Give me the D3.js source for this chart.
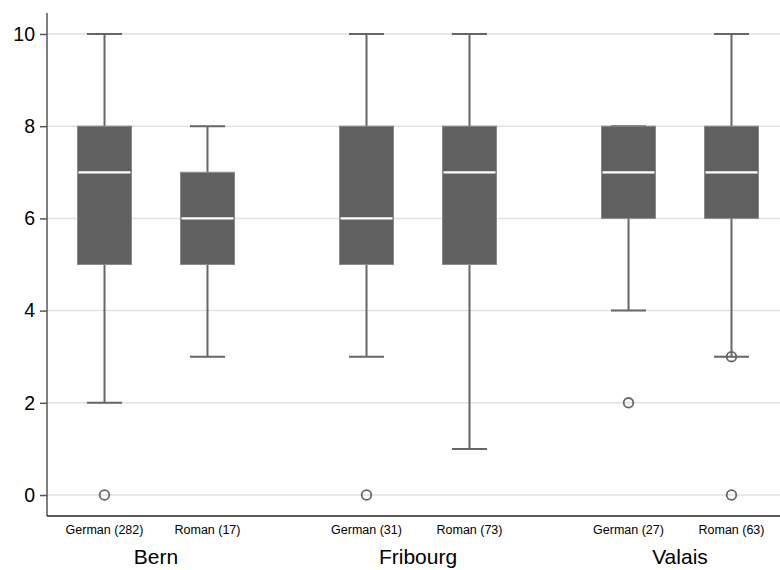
<!DOCTYPE html>
<html><head><meta charset="utf-8">
<script src="https://cdn.jsdelivr.net/npm/d3@7"></script>
<style>body{margin:0;background:#fff}svg{display:block;font-family:"Liberation Sans",Arial,sans-serif}</style>
</head><body><svg id="c" width="780" height="570"></svg>
<script>
const groups = ["Bern","Fribourg","Valais"];
const languages = ["German","Roman"];
const counts = [[282,17],[31,73],[27,63]];
const whiskerLow  = [[2,3],[3,1],[4,3]];
const q1          = [[5,5],[5,5],[6,6]];
const medians     = [[7,6],[6,7],[7,7]];
const q3          = [[8,7],[8,8],[8,8]];
const whiskerHigh = [[10,8],[10,10],[8,10]];
const outliers    = [[[0],[]],[[0],[]],[[2],[3,0]]];
const yTicks = [0,2,4,6,8,10];

(function(){
const svg = d3.select("#c");
const mL = 47, mR = 780, mT = 13, mB = 516;
const y = d3.scaleLinear().domain([-0.455,10.455]).range([mB, mT]);
const xg = d3.scaleBand().domain(groups).range([25, 811]);
const xi = d3.scalePoint().domain(languages).range([0, xg.bandwidth()]).padding(0.772);
const boxW = 54, capW = 35;

svg.append("g").selectAll("line").data(yTicks).join("line")
  .attr("x1", mL).attr("x2", mR)
  .attr("y1", d=>y(d)).attr("y2", d=>y(d))
  .attr("stroke","#e1e1e1").attr("stroke-width",1.5);

const yAxis = svg.append("g").attr("transform",`translate(${mL},0)`)
  .call(d3.axisLeft(y).tickValues(yTicks).tickSize(7).tickPadding(5));
yAxis.select(".domain").attr("stroke","#555").attr("stroke-width",1.5).attr("d",`M0,${mT}V${mB}`);
yAxis.selectAll(".tick line").attr("stroke","#555").attr("stroke-width",1.5);
yAxis.selectAll(".tick text").attr("font-size",19.5).attr("fill","#000").attr("font-family","Liberation Sans, Arial, sans-serif");

svg.append("line").attr("x1",mL).attr("x2",mR).attr("y1",mB).attr("y2",mB)
  .attr("stroke","#222").attr("stroke-width",1.5);

const items = [];
groups.forEach((g,gi)=>languages.forEach((l,li)=>items.push({
  g, l, n:counts[gi][li], lo:whiskerLow[gi][li], q1:q1[gi][li], med:medians[gi][li],
  q3:q3[gi][li], hi:whiskerHigh[gi][li], out:outliers[gi][li],
  cx: xg(g)+xi(l)
})));

const col = "#666";
const bx = svg.append("g").selectAll("g").data(items).join("g");
bx.append("line").attr("x1",d=>d.cx).attr("x2",d=>d.cx).attr("y1",d=>y(d.q3)).attr("y2",d=>y(d.hi)).attr("stroke",col).attr("stroke-width",2);
bx.append("line").attr("x1",d=>d.cx).attr("x2",d=>d.cx).attr("y1",d=>y(d.q1)).attr("y2",d=>y(d.lo)).attr("stroke",col).attr("stroke-width",2);
bx.append("line").attr("x1",d=>d.cx-capW/2).attr("x2",d=>d.cx+capW/2).attr("y1",d=>y(d.hi)).attr("y2",d=>y(d.hi)).attr("stroke",col).attr("stroke-width",2);
bx.append("line").attr("x1",d=>d.cx-capW/2).attr("x2",d=>d.cx+capW/2).attr("y1",d=>y(d.lo)).attr("y2",d=>y(d.lo)).attr("stroke",col).attr("stroke-width",2);
bx.append("rect").attr("x",d=>d.cx-boxW/2).attr("width",boxW)
  .attr("y",d=>y(d.q3)).attr("height",d=>y(d.q1)-y(d.q3))
  .attr("fill","#606060").attr("stroke","#8a8a8a").attr("stroke-width",1);
bx.append("line").attr("x1",d=>d.cx-boxW/2+1).attr("x2",d=>d.cx+boxW/2-1).attr("y1",d=>y(d.med)).attr("y2",d=>y(d.med)).attr("stroke","#fff").attr("stroke-width",2.2);
bx.each(function(d){
  d3.select(this).selectAll("circle").data(d.out).join("circle")
    .attr("cx",d.cx).attr("cy",v=>y(v)).attr("r",4.8)
    .attr("fill","none").attr("stroke",col).attr("stroke-width",1.8);
});
svg.append("g").selectAll("text").data(items).join("text")
  .attr("x",d=>d.cx).attr("y",534).attr("text-anchor","middle")
  .attr("font-size",12.5).attr("fill","#000").text(d=>`${d.l} (${d.n})`);
svg.append("g").selectAll("text").data(groups).join("text")
  .attr("x",d=>xg(d)+xg.bandwidth()/2).attr("y",564).attr("text-anchor","middle")
  .attr("font-size",21).attr("fill","#000").text(d=>d);
})();
</script></body></html>
